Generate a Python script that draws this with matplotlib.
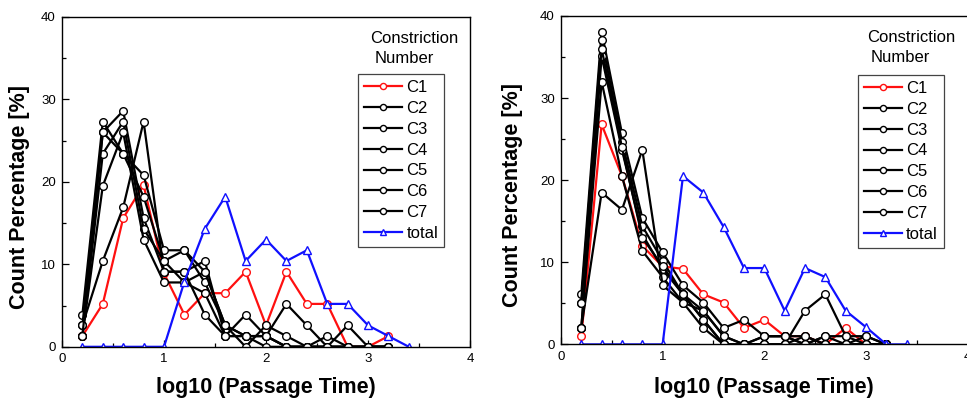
import numpy as np
import matplotlib
matplotlib.use("Agg")
import matplotlib.pyplot as plt
from matplotlib.ticker import MultipleLocator

plt.rcParams['font.family'] = ['Liberation Sans', 'DejaVu Sans']

# x positions (log10 of passage time bins)
x_c = [0.2, 0.4, 0.6, 0.8, 1.0, 1.2, 1.4, 1.6, 1.8, 2.0, 2.2, 2.4, 2.6, 2.8, 3.0, 3.2]
x_tot = [0.2, 0.4, 0.6, 0.8, 1.0, 1.2, 1.4, 1.6, 1.8, 2.0, 2.2, 2.4, 2.6, 2.8, 3.0, 3.2, 3.4]

# left panel
left_c1 = [1.3, 5.2, 15.6, 19.6, 8.9, 3.9, 6.5, 6.5, 9.1, 2.6, 9.1, 5.2, 5.2, 0, 0, 1.3]
left_black = [
    [3.9, 27.3, 23.4, 20.8, 11.7, 11.7, 9.1, 2.6, 1.3, 1.3, 0, 0, 0, 0, 0, 0],
    [2.6, 26.0, 28.6, 15.6, 9.1, 9.1, 10.4, 1.3, 3.9, 1.3, 5.2, 2.6, 0, 0, 0, 0],
    [1.3, 23.4, 27.3, 14.3, 10.4, 11.7, 7.8, 2.6, 0, 2.6, 1.3, 0, 1.3, 0, 0, 0],
    [1.3, 19.5, 26.0, 13.0, 7.8, 7.8, 6.5, 1.3, 1.3, 0, 0, 0, 0, 2.6, 0, 0],
    [2.6, 10.4, 16.9, 27.3, 9.1, 9.1, 3.9, 1.3, 1.3, 1.3, 0, 0, 0, 0, 0, 0],
    [1.3, 26.0, 23.4, 18.2, 10.4, 7.8, 9.1, 2.6, 1.3, 1.3, 0, 0, 0, 0, 0, 0],
]
left_total = [0, 0, 0, 0, 0, 7.9, 14.3, 18.2, 10.4, 13.0, 10.4, 11.7, 5.2, 5.2, 2.6, 1.3, 0]

# right panel
right_c1 = [1.0, 26.8, 20.5, 12.0, 9.5, 9.2, 6.1, 5.1, 2.0, 3.0, 1.0, 1.0, 0, 2.0, 0, 0]
right_black = [
    [6.1, 38.1, 25.7, 15.4, 11.2, 7.2, 5.1, 2.0, 3.0, 1.0, 1.0, 0, 1.0, 1.0, 1.0, 0],
    [5.1, 37.1, 24.7, 14.4, 10.2, 6.1, 4.1, 1.0, 0, 0, 0, 4.1, 6.1, 1.0, 0, 0],
    [2.0, 35.1, 23.7, 13.4, 9.2, 6.1, 3.0, 0, 0, 1.0, 1.0, 1.0, 0, 0, 0, 0],
    [2.0, 32.0, 20.5, 11.4, 8.2, 5.1, 2.0, 0, 0, 0, 0, 0, 1.0, 0, 0, 0],
    [2.0, 18.5, 16.4, 23.7, 7.2, 5.1, 4.1, 1.0, 0, 1.0, 1.0, 0, 0, 0, 0, 0],
    [5.1, 36.0, 24.0, 13.0, 9.5, 6.1, 3.0, 0, 0, 0, 0, 1.0, 0, 0, 1.0, 0],
]
right_total = [0, 0, 0, 0, 0, 20.5, 18.5, 14.3, 9.3, 9.3, 4.1, 9.3, 8.2, 4.1, 2.1, 0, 0]

black_names = ['C2', 'C3', 'C4', 'C5', 'C6', 'C7']

fig = plt.figure(figsize=(9.67, 4.0), dpi=100)
ax1 = fig.add_axes([0.0641, 0.133, 0.422, 0.825])
ax2 = fig.add_axes([0.5801, 0.139, 0.4206, 0.821])


def draw(ax, c1, blacks, total, leg_xy, title_xy, xl_y, yl_x):
    mk = dict(marker='o', markersize=5.5, markerfacecolor='white', markeredgewidth=1.0)
    ax.plot(x_c, c1, color='#ff1010', lw=1.6, markeredgecolor='#ff1010', label='C1', **mk)
    for vals, name in zip(blacks, black_names):
        ax.plot(x_c, vals, color='black', lw=1.6, markeredgecolor='black', label=name, **mk)
    ax.plot(x_tot, total, color='#1010ff', lw=1.6, marker='^', markersize=6,
            markerfacecolor='white', markeredgecolor='#1010ff', markeredgewidth=1.0,
            label='total')

    ax.set_xlim(0, 4)
    ax.set_ylim(0, 40)
    ax.xaxis.set_major_locator(MultipleLocator(1))
    ax.xaxis.set_minor_locator(MultipleLocator(0.5))
    ax.yaxis.set_major_locator(MultipleLocator(10))
    ax.yaxis.set_minor_locator(MultipleLocator(5))
    ax.tick_params(which='both', direction='in', labelsize=9.5, width=0.9, pad=4.5)
    ax.tick_params(which='major', length=5)
    ax.tick_params(which='minor', length=3)
    for s in ax.spines.values():
        s.set_linewidth(1.0)

    ax.set_xlabel('log10 (Passage Time)', fontsize=15.5, fontweight='bold')
    ax.xaxis.set_label_coords(0.5, xl_y)
    ax.set_ylabel('Count Percentage [%]', fontsize=15.5, fontweight='bold')
    ax.yaxis.set_label_coords(yl_x, 0.455)

    leg = ax.legend(loc='upper left', bbox_to_anchor=leg_xy, fontsize=12,
                    frameon=True, fancybox=False, framealpha=1, edgecolor='#444444',
                    handlelength=2.3, handletextpad=0.25, labelspacing=0.35,
                    borderpad=0.35, borderaxespad=0, markerscale=0.8)
    leg.get_frame().set_linewidth(0.9)

    ax.text(title_xy[0], title_xy[1], 'Constriction', transform=ax.transAxes,
            fontsize=12, va='baseline', ha='left')
    ax.text(title_xy[0] + 0.01, title_xy[1] - 0.062, 'Number', transform=ax.transAxes,
            fontsize=12, va='baseline', ha='left')


draw(ax1, left_c1, left_black, left_total, (0.7255, 0.826), (0.755, 0.921), -0.092, -0.078)
draw(ax2, right_c1, right_black, right_total, (0.730, 0.820), (0.752, 0.922), -0.0996, -0.093)

fig.savefig('out.png', dpi=100)
